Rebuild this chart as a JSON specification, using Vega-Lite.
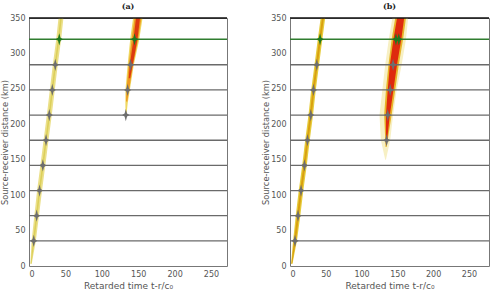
{
"$schema": "https://vega.github.io/schema/vega-lite/v6.json",
"padding": {"left": 0, "top": 2, "right": 5, "bottom": 2},
"config": {
 "font": "DejaVu Sans",
 "axis": {"grid": false, "ticks": false, "domain": false, "labelOverlap": false, "labelFont": "DejaVu Sans", "labelFontSize": 8, "labelColor": "#555", "labelPadding": 4, "titleFont": "DejaVu Sans", "titleFontSize": 8.3, "titleFontWeight": "normal", "titleColor": "#555", "titlePadding": 0},
 "axisX": {"titlePadding": 3, "titleFontSize": 9},
 "view": {"stroke": "#777", "strokeWidth": 1},
 "title": {"font": "DejaVu Serif", "fontSize": 8, "fontWeight": "bold", "color": "#222", "offset": 3}
},
"datasets": {
 "bands": [
  {"p":"a","s":1,"lv":1,"band":"a1o","d":3,"t0":1.8,"t1":3.8},
  {"p":"a","s":1,"lv":1,"band":"a1o","d":35.5,"t0":3.6,"t1":9.4},
  {"p":"a","s":1,"lv":1,"band":"a1o","d":71,"t0":7.3,"t1":13.7},
  {"p":"a","s":1,"lv":1,"band":"a1o","d":106.5,"t0":11.1,"t1":17.9},
  {"p":"a","s":1,"lv":1,"band":"a1o","d":142,"t0":15.6,"t1":22.4},
  {"p":"a","s":1,"lv":1,"band":"a1o","d":177.5,"t0":20,"t1":26.8},
  {"p":"a","s":1,"lv":1,"band":"a1o","d":213,"t0":24.5,"t1":31.3},
  {"p":"a","s":1,"lv":1,"band":"a1o","d":248.5,"t0":28.6,"t1":35.4},
  {"p":"a","s":1,"lv":1,"band":"a1o","d":284,"t0":32.7,"t1":39.5},
  {"p":"a","s":1,"lv":1,"band":"a1o","d":320,"t0":37.4,"t1":44.2},
  {"p":"a","s":1,"lv":1,"band":"a1o","d":350,"t0":40.5,"t1":47.3},
  {"p":"a","s":1,"lv":2,"band":"a1c","d":3,"t0":2.3,"t1":3.3},
  {"p":"a","s":1,"lv":2,"band":"a1c","d":35.5,"t0":5.4,"t1":7.6},
  {"p":"a","s":1,"lv":2,"band":"a1c","d":71,"t0":9.4,"t1":11.6},
  {"p":"a","s":1,"lv":2,"band":"a1c","d":106.5,"t0":13.4,"t1":15.6},
  {"p":"a","s":1,"lv":2,"band":"a1c","d":142,"t0":17.9,"t1":20.1},
  {"p":"a","s":1,"lv":2,"band":"a1c","d":177.5,"t0":22.3,"t1":24.5},
  {"p":"a","s":1,"lv":2,"band":"a1c","d":213,"t0":26.8,"t1":29},
  {"p":"a","s":1,"lv":2,"band":"a1c","d":248.5,"t0":30.9,"t1":33.1},
  {"p":"a","s":1,"lv":2,"band":"a1c","d":284,"t0":35,"t1":37.2},
  {"p":"a","s":1,"lv":2,"band":"a1c","d":320,"t0":39.7,"t1":41.9},
  {"p":"a","s":1,"lv":2,"band":"a1c","d":350,"t0":42.8,"t1":45},
  {"p":"a","s":2,"lv":1,"band":"a2o","d":210,"t0":132.6,"t1":133.6},
  {"p":"a","s":2,"lv":1,"band":"a2o","d":230,"t0":132.4,"t1":135.6},
  {"p":"a","s":2,"lv":1,"band":"a2o","d":248.5,"t0":132.5,"t1":138.5},
  {"p":"a","s":2,"lv":1,"band":"a2o","d":284,"t0":135.5,"t1":144},
  {"p":"a","s":2,"lv":1,"band":"a2o","d":320,"t0":139,"t1":151.5},
  {"p":"a","s":2,"lv":1,"band":"a2o","d":350,"t0":143,"t1":156},
  {"p":"a","s":2,"lv":2,"band":"a2m","d":232,"t0":133.3,"t1":135},
  {"p":"a","s":2,"lv":2,"band":"a2m","d":248.5,"t0":133.8,"t1":137.5},
  {"p":"a","s":2,"lv":2,"band":"a2m","d":284,"t0":137,"t1":143},
  {"p":"a","s":2,"lv":2,"band":"a2m","d":320,"t0":141,"t1":150},
  {"p":"a","s":2,"lv":2,"band":"a2m","d":350,"t0":145,"t1":154.5},
  {"p":"a","s":2,"lv":3,"band":"a2r","d":265,"t0":137,"t1":139},
  {"p":"a","s":2,"lv":3,"band":"a2r","d":284,"t0":138.5,"t1":142.5},
  {"p":"a","s":2,"lv":3,"band":"a2r","d":320,"t0":143.5,"t1":149},
  {"p":"a","s":2,"lv":3,"band":"a2r","d":350,"t0":147,"t1":152.5},
  {"p":"b","s":1,"lv":1,"band":"b1o","d":3,"t0":1.5,"t1":3.5},
  {"p":"b","s":1,"lv":1,"band":"b1o","d":35.5,"t0":4.3,"t1":9.7},
  {"p":"b","s":1,"lv":1,"band":"b1o","d":71,"t0":8,"t1":14.4},
  {"p":"b","s":1,"lv":1,"band":"b1o","d":106.5,"t0":12.2,"t1":18.6},
  {"p":"b","s":1,"lv":1,"band":"b1o","d":142,"t0":17,"t1":23.4},
  {"p":"b","s":1,"lv":1,"band":"b1o","d":177.5,"t0":21.2,"t1":27.6},
  {"p":"b","s":1,"lv":1,"band":"b1o","d":213,"t0":25.8,"t1":32.2},
  {"p":"b","s":1,"lv":1,"band":"b1o","d":248.5,"t0":29.6,"t1":36},
  {"p":"b","s":1,"lv":1,"band":"b1o","d":284,"t0":34.2,"t1":40.6},
  {"p":"b","s":1,"lv":1,"band":"b1o","d":320,"t0":38.8,"t1":45.2},
  {"p":"b","s":1,"lv":1,"band":"b1o","d":350,"t0":42.8,"t1":49.2},
  {"p":"b","s":1,"lv":2,"band":"b1c","d":3,"t0":2,"t1":3},
  {"p":"b","s":1,"lv":2,"band":"b1c","d":35.5,"t0":5.6,"t1":8.4},
  {"p":"b","s":1,"lv":2,"band":"b1c","d":71,"t0":9.8,"t1":12.6},
  {"p":"b","s":1,"lv":2,"band":"b1c","d":106.5,"t0":14,"t1":16.8},
  {"p":"b","s":1,"lv":2,"band":"b1c","d":142,"t0":18.8,"t1":21.6},
  {"p":"b","s":1,"lv":2,"band":"b1c","d":177.5,"t0":23,"t1":25.8},
  {"p":"b","s":1,"lv":2,"band":"b1c","d":213,"t0":27.6,"t1":30.4},
  {"p":"b","s":1,"lv":2,"band":"b1c","d":248.5,"t0":31.4,"t1":34.2},
  {"p":"b","s":1,"lv":2,"band":"b1c","d":284,"t0":36,"t1":38.8},
  {"p":"b","s":1,"lv":2,"band":"b1c","d":320,"t0":40.6,"t1":43.4},
  {"p":"b","s":1,"lv":2,"band":"b1c","d":350,"t0":44.6,"t1":47.4},
  {"p":"b","s":2,"lv":1,"band":"b2h","d":150,"t0":133,"t1":134},
  {"p":"b","s":2,"lv":1,"band":"b2h","d":177.5,"t0":127,"t1":140},
  {"p":"b","s":2,"lv":1,"band":"b2h","d":213,"t0":125,"t1":144},
  {"p":"b","s":2,"lv":1,"band":"b2h","d":248.5,"t0":129,"t1":149},
  {"p":"b","s":2,"lv":1,"band":"b2h","d":284,"t0":133,"t1":156},
  {"p":"b","s":2,"lv":1,"band":"b2h","d":320,"t0":138,"t1":162},
  {"p":"b","s":2,"lv":1,"band":"b2h","d":350,"t0":143,"t1":165},
  {"p":"b","s":2,"lv":2,"band":"b2m","d":168,"t0":133.5,"t1":135},
  {"p":"b","s":2,"lv":2,"band":"b2m","d":213,"t0":131.5,"t1":142},
  {"p":"b","s":2,"lv":2,"band":"b2m","d":248.5,"t0":134,"t1":147},
  {"p":"b","s":2,"lv":2,"band":"b2m","d":284,"t0":137.5,"t1":152},
  {"p":"b","s":2,"lv":2,"band":"b2m","d":320,"t0":142,"t1":158},
  {"p":"b","s":2,"lv":2,"band":"b2m","d":350,"t0":147,"t1":162},
  {"p":"b","s":2,"lv":3,"band":"b2r","d":172,"t0":134,"t1":135},
  {"p":"b","s":2,"lv":3,"band":"b2r","d":213,"t0":134,"t1":139.5},
  {"p":"b","s":2,"lv":3,"band":"b2r","d":248.5,"t0":136.5,"t1":144.5},
  {"p":"b","s":2,"lv":3,"band":"b2r","d":284,"t0":139.5,"t1":149.5},
  {"p":"b","s":2,"lv":3,"band":"b2r","d":320,"t0":144.5,"t1":155.5},
  {"p":"b","s":2,"lv":3,"band":"b2r","d":350,"t0":149.5,"t1":159.5}
 ],
 "rules": [
  {"d":35.5,"k":"g"},{"d":71,"k":"g"},{"d":106.5,"k":"g"},{"d":142,"k":"g"},{"d":177.5,"k":"g"},{"d":213,"k":"g"},{"d":248.5,"k":"g"},{"d":284,"k":"g"},{"d":320,"k":"G"},{"d":350,"k":"top"}
 ],
 "marks": [
  {"p":"a","t0":6.5,"d":35.5,"k":"g"},{"p":"a","t0":10.5,"d":71,"k":"g"},{"p":"a","t0":14.5,"d":106.5,"k":"g"},{"p":"a","t0":19,"d":142,"k":"g"},{"p":"a","t0":23.4,"d":177.5,"k":"g"},{"p":"a","t0":27.9,"d":213,"k":"g"},{"p":"a","t0":32,"d":248.5,"k":"g"},{"p":"a","t0":36.1,"d":284,"k":"g"},{"p":"a","t0":41.6,"d":320,"k":"G"},
  {"p":"a","t0":133,"d":213,"k":"g"},{"p":"a","t0":135.5,"d":248.5,"k":"g"},{"p":"a","t0":139.5,"d":284,"k":"g"},{"p":"a","t0":145,"d":320,"k":"G"},
  {"p":"b","t0":7,"d":35.5,"k":"g"},{"p":"b","t0":11.2,"d":71,"k":"g"},{"p":"b","t0":15.4,"d":106.5,"k":"g"},{"p":"b","t0":20.2,"d":142,"k":"g"},{"p":"b","t0":24.4,"d":177.5,"k":"g"},{"p":"b","t0":29,"d":213,"k":"g"},{"p":"b","t0":32.8,"d":248.5,"k":"g"},{"p":"b","t0":37.4,"d":284,"k":"g"},{"p":"b","t0":42,"d":320,"k":"G"},
  {"p":"b","t0":135,"d":177.5,"k":"g"},{"p":"b","t0":136.5,"d":213,"k":"g"},{"p":"b","t0":140,"d":248.5,"k":"g"},{"p":"b","t0":144,"d":284,"k":"g"},{"p":"b","t0":148,"d":320,"k":"G"},{"p":"b","t0":152,"d":320,"k":"G"}
 ]
},
"spacing": 32,
"hconcat": [
 {
  "width": 198, "height": 248,
  "title": "(a)",
  "encoding": {
   "y": {"field": "d", "type": "quantitative", "scale": {"domain": [0, 350], "nice": false}, "axis": {"values": [0,50,100,150,200,250,300,350], "labelOverlap": false, "title": "Source-receiver distance (km)"}},
   "x": {"field": "t0", "type": "quantitative", "scale": {"domain": [0, 272], "nice": false}, "axis": {"values": [0,50,100,150,200,250], "labelOverlap": false, "title": "Retarded time t-r/c₀"}}
  },
  "layer": [
   {"data": {"name": "bands"}, "transform": [{"filter": "datum.p==='a' && datum.lv===1"}],
    "mark": {"type": "area", "orient": "horizontal"},
    "encoding": {
     "x2": {"field": "t1"},
     "color": {"field": "band", "type": "nominal", "legend": null, "scale": {"domain": ["a1o","a1c","a2o","a2m","a2r","b1o","b1c","b2h","b2m","b2r"], "range": ["#ebe08a","#dccf5a","#efd860","#ee9a20","#dc3a10","#e6cc3c","#d9a010","#f7f0c4","#e8b428","#de2a0e"]}},
     "detail": {"field": "s"}
    }},
   {"data": {"name": "bands"}, "transform": [{"filter": "datum.p==='a' && datum.lv===2"}],
    "mark": {"type": "area", "orient": "horizontal"},
    "encoding": {"x2": {"field": "t1"}, "color": {"field": "band", "type": "nominal", "legend": null}, "detail": {"field": "s"}}},
   {"data": {"name": "bands"}, "transform": [{"filter": "datum.p==='a' && datum.lv===3"}],
    "mark": {"type": "area", "orient": "horizontal"},
    "encoding": {"x2": {"field": "t1"}, "color": {"field": "band", "type": "nominal", "legend": null}, "detail": {"field": "s"}}},
   {"data": {"name": "rules"}, "transform": [{"filter": "datum.k==='g'"}], "mark": {"type": "rule", "color": "#6a6a6a", "strokeWidth": 1.3}, "encoding": {"x": {"value": 0}, "x2": {"value": 198}}},
   {"data": {"name": "rules"}, "transform": [{"filter": "datum.k==='G'"}], "mark": {"type": "rule", "color": "#2f7d2f", "strokeWidth": 1.5}, "encoding": {"x": {"value": 0}, "x2": {"value": 198}}},
   {"data": {"name": "rules"}, "transform": [{"filter": "datum.k==='top'"}], "mark": {"type": "rule", "color": "#111", "strokeWidth": 1.5}, "encoding": {"x": {"value": 0}, "x2": {"value": 198}}},
   {"data": {"name": "marks"}, "transform": [{"filter": "datum.p==='a' && datum.k==='g'"}], "mark": {"type": "point", "filled": true, "color": "#6e6e6e", "opacity": 1, "size": 150, "shape": "M0,-1L0.2,-0.25L0.6,0L0.2,0.25L0,1L-0.2,0.25L-0.6,0L-0.2,-0.25Z"}, "encoding": {}},
   {"data": {"name": "marks"}, "transform": [{"filter": "datum.p==='a' && datum.k==='G'"}], "mark": {"type": "point", "filled": true, "color": "#1f7a1f", "opacity": 1, "size": 150, "shape": "M0,-1L0.2,-0.25L0.6,0L0.2,0.25L0,1L-0.2,0.25L-0.6,0L-0.2,-0.25Z"}, "encoding": {}}
  ]
 },
 {
  "width": 199, "height": 248,
  "title": "(b)",
  "encoding": {
   "y": {"field": "d", "type": "quantitative", "scale": {"domain": [0, 350], "nice": false}, "axis": {"values": [0,50,100,150,200,250,300,350], "labelOverlap": false, "title": "Source-receiver distance (km)"}},
   "x": {"field": "t0", "type": "quantitative", "scale": {"domain": [0, 278], "nice": false}, "axis": {"values": [0,50,100,150,200,250], "labelOverlap": false, "title": "Retarded time t-r/c₀"}}
  },
  "layer": [
   {"data": {"name": "bands"}, "transform": [{"filter": "datum.p==='b' && datum.lv===1"}],
    "mark": {"type": "area", "orient": "horizontal"},
    "encoding": {
     "x2": {"field": "t1"},
     "color": {"field": "band", "type": "nominal", "legend": null, "scale": {"domain": ["a1o","a1c","a2o","a2m","a2r","b1o","b1c","b2h","b2m","b2r"], "range": ["#ebe08a","#dccf5a","#efd860","#ee9a20","#dc3a10","#e6cc3c","#d9a010","#f7f0c4","#e8b428","#de2a0e"]}},
     "detail": {"field": "s"}
    }},
   {"data": {"name": "bands"}, "transform": [{"filter": "datum.p==='b' && datum.lv===2"}],
    "mark": {"type": "area", "orient": "horizontal"},
    "encoding": {"x2": {"field": "t1"}, "color": {"field": "band", "type": "nominal", "legend": null}, "detail": {"field": "s"}}},
   {"data": {"name": "bands"}, "transform": [{"filter": "datum.p==='b' && datum.lv===3"}],
    "mark": {"type": "area", "orient": "horizontal"},
    "encoding": {"x2": {"field": "t1"}, "color": {"field": "band", "type": "nominal", "legend": null}, "detail": {"field": "s"}}},
   {"data": {"name": "rules"}, "transform": [{"filter": "datum.k==='g'"}], "mark": {"type": "rule", "color": "#6a6a6a", "strokeWidth": 1.3}, "encoding": {"x": {"value": 0}, "x2": {"value": 199}}},
   {"data": {"name": "rules"}, "transform": [{"filter": "datum.k==='G'"}], "mark": {"type": "rule", "color": "#2f7d2f", "strokeWidth": 1.5}, "encoding": {"x": {"value": 0}, "x2": {"value": 199}}},
   {"data": {"name": "rules"}, "transform": [{"filter": "datum.k==='top'"}], "mark": {"type": "rule", "color": "#111", "strokeWidth": 1.5}, "encoding": {"x": {"value": 0}, "x2": {"value": 199}}},
   {"data": {"name": "marks"}, "transform": [{"filter": "datum.p==='b' && datum.k==='g'"}], "mark": {"type": "point", "filled": true, "color": "#6e6e6e", "opacity": 1, "size": 150, "shape": "M0,-1L0.2,-0.25L0.6,0L0.2,0.25L0,1L-0.2,0.25L-0.6,0L-0.2,-0.25Z"}, "encoding": {}},
   {"data": {"name": "marks"}, "transform": [{"filter": "datum.p==='b' && datum.k==='G'"}], "mark": {"type": "point", "filled": true, "color": "#1f7a1f", "opacity": 1, "size": 150, "shape": "M0,-1L0.2,-0.25L0.6,0L0.2,0.25L0,1L-0.2,0.25L-0.6,0L-0.2,-0.25Z"}, "encoding": {}}
  ]
 }
]
}
